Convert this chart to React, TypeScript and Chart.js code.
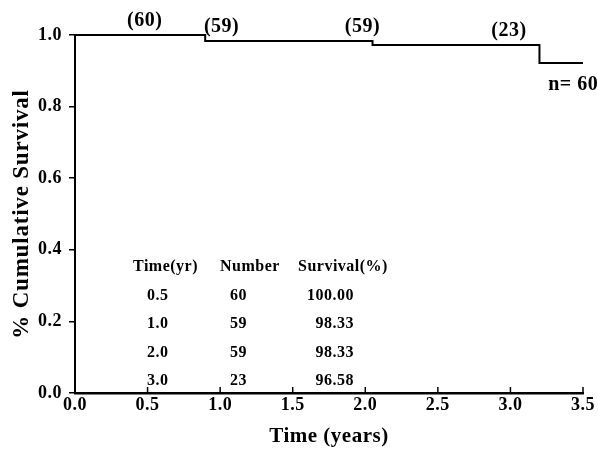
import React, { useEffect, useRef } from "react";
import { Chart, registerables } from "chart.js";

Chart.register(...registerables);

// ---- data ----
const stepTimes = [0, 0.897, 2.05, 3.2, 3.5];
const survival = [1.0, 0.9833, 0.972, 0.922, 0.922];
const atRiskTimes = [0.48, 1.01, 1.98, 2.99];
const atRiskLabels = ["(60)", "(59)", "(59)", "(23)"];
const sampleLabel = "n= 60";
const tableHeaders = ["Time(yr)", "Number", "Survival(%)"];
const tableTime = ["0.5", "1.0", "2.0", "3.0"];
const tableNumber = ["60", "59", "59", "23"];
const tableSurvival = ["100.00", "98.33", "98.33", "96.58"];
const xTicks = [0, 0.5, 1.0, 1.5, 2.0, 2.5, 3.0, 3.5];
const yTicks = [0, 0.2, 0.4, 0.6, 0.8, 1.0];
const xTitle = "Time (years)";
const yTitle = "% Cumulative Survival";

const FAMILY = "'Liberation Serif', 'Times New Roman', serif";

function survivalAt(t: number): number {
  let s = survival[0];
  for (let i = 0; i < stepTimes.length; i++) {
    if (stepTimes[i] <= t) s = survival[i];
  }
  return s;
}

const annotationPlugin = {
  id: "kmAnnotations",
  beforeDraw(chart: any) {
    (chart.ctx as any).letterSpacing = "0.5px";
  },
  afterDraw(chart: any) {
    const { ctx } = chart;
    const xs = chart.scales.x;
    const ys = chart.scales.y;
    const area = chart.chartArea;
    ctx.save();
    ctx.fillStyle = "#000";
    ctx.strokeStyle = "#000";

    // inward x ticks
    ctx.lineWidth = 1.5;
    xTicks.forEach((v) => {
      const px = xs.getPixelForValue(v);
      ctx.beginPath();
      ctx.moveTo(px, area.bottom);
      ctx.lineTo(px, area.bottom - 6);
      ctx.stroke();
    });

    // axis titles
    ctx.font = `bold 21px ${FAMILY}`;
    (ctx as any).letterSpacing = "0.5px";
    ctx.textAlign = "center";
    ctx.textBaseline = "middle";
    ctx.fillText(xTitle, (area.left + area.right) / 2, 437);
    ctx.save();
    ctx.translate(22, (area.top + area.bottom) / 2);
    ctx.rotate(-Math.PI / 2);
    ctx.font = `bold 23px ${FAMILY}`;
    (ctx as any).letterSpacing = "0.8px";
    ctx.fillText(yTitle, 0, 0);
    ctx.restore();

    // number at risk labels
    ctx.font = `bold 20px ${FAMILY}`;
    (ctx as any).letterSpacing = "0.5px";
    ctx.textAlign = "center";
    ctx.textBaseline = "alphabetic";
    atRiskTimes.forEach((t, i) => {
      const px = xs.getPixelForValue(t);
      const py = ys.getPixelForValue(survivalAt(t));
      ctx.fillText(atRiskLabels[i], px, py - 9);
    });

    // n = 60
    ctx.textAlign = "left";
    const lastY = ys.getPixelForValue(survival[survival.length - 1]);
    ctx.fillText(sampleLabel, xs.getPixelForValue(3.26), lastY + 27);

    // table
    ctx.font = `bold 16px ${FAMILY}`;
    (ctx as any).letterSpacing = "0.5px";
    const base = area.left;
    const headerY = area.bottom - 122;
    const rowGap = 28.5;
    ctx.textAlign = "left";
    ctx.fillText(tableHeaders[0], base + 58, headerY);
    ctx.fillText(tableHeaders[1], base + 145, headerY);
    ctx.fillText(tableHeaders[2], base + 223, headerY);
    tableTime.forEach((v, i) => {
      const y = headerY + rowGap * (i + 1);
      ctx.textAlign = "left";
      ctx.fillText(v, base + 72, y);
      ctx.fillText(tableNumber[i], base + 155, y);
      ctx.textAlign = "right";
      ctx.fillText(tableSurvival[i], base + 279, y);
    });
    ctx.restore();
  },
};

export default function App() {
  const canvasRef = useRef<HTMLCanvasElement | null>(null);

  useEffect(() => {
    const canvas = canvasRef.current;
    if (!canvas) return;
    const tickFont = { family: FAMILY, size: 18, weight: "bold" as const };
    const chart = new Chart(canvas, {
      type: "line",
      data: {
        datasets: [
          {
            data: stepTimes.map((t, i) => ({ x: t, y: survival[i] })),
            stepped: "before",
            borderColor: "#000",
            borderWidth: 2,
            pointRadius: 0,
            fill: false,
            clip: false as any,
          },
        ],
      },
      options: {
        animation: false,
        responsive: false,
        devicePixelRatio: 1,
        layout: { padding: { top: 35, right: 15, left: 0, bottom: 0 } },
        plugins: { legend: { display: false }, tooltip: { enabled: false } },
        scales: {
          x: {
            type: "linear",
            min: 0,
            max: 3.5,
            afterBuildTicks: (s: any) => {
              s.ticks = xTicks.map((v) => ({ value: v }));
            },
            afterFit: (s: any) => {
              s.height = 57;
            },
            ticks: {
              color: "#000",
              font: tickFont,
              padding: 2,
              maxRotation: 0,
              autoSkip: false,
              callback: (v: any) => Number(v).toFixed(1),
            },
            grid: { display: false, drawTicks: false },
            border: { display: true, color: "#000", width: 2.5 },
            title: { display: false },
          },
          y: {
            type: "linear",
            min: 0,
            max: 1,
            afterBuildTicks: (s: any) => {
              s.ticks = yTicks.map((v) => ({ value: v }));
            },
            afterFit: (s: any) => {
              s.width = 75;
            },
            ticks: {
              color: "#000",
              font: tickFont,
              padding: 7,
              callback: (v: any) => Number(v).toFixed(1),
            },
            grid: {
              display: true,
              drawOnChartArea: false,
              drawTicks: true,
              tickLength: 6,
              color: "#000",
              lineWidth: 1.5,
            },
            border: { display: true, color: "#000", width: 2 },
            title: { display: false },
          },
        },
      },
      plugins: [annotationPlugin],
    });
    return () => chart.destroy();
  }, []);

  return (
    <div style={{ position: "absolute", left: 0, top: 0, width: 598, height: 450, background: "#fff" }}>
      <canvas ref={canvasRef} width={598} height={450} style={{ width: 598, height: 450, display: "block" }} />
    </div>
  );
}
